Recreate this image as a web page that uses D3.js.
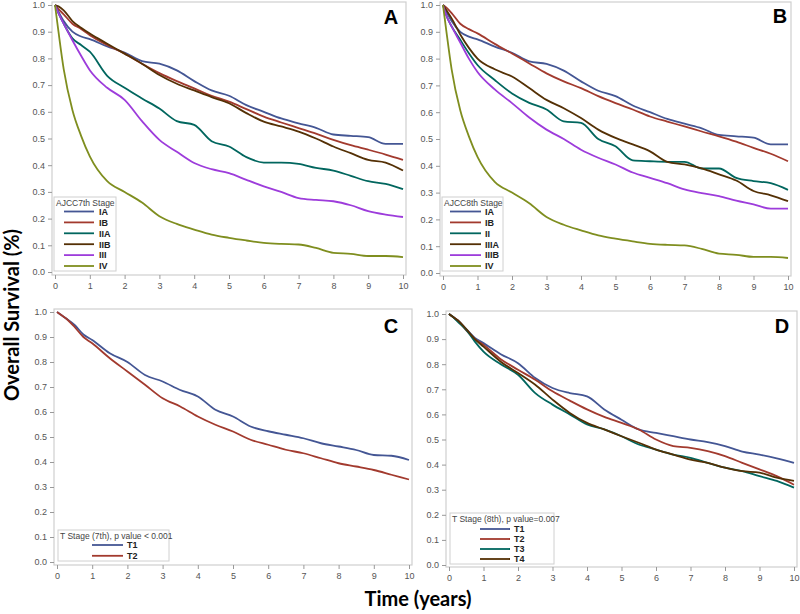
<!DOCTYPE html>
<html><head><meta charset="utf-8">
<script src="https://cdn.jsdelivr.net/npm/d3@7"></script>
<style>
body{margin:0;background:#fff;}
svg{display:block;}
</style></head><body>
<svg id="chart" width="800" height="614"></svg>
<script>
// ---------- data ----------
const times = [0,0.1,0.25,0.5,0.75,1,1.5,2,2.5,3,3.5,4,4.5,5,5.5,6,6.5,7,7.5,8,8.5,9,9.5,10];
const xTicks = [0,1,2,3,4,5,6,7,8,9,10];
const yTicks = [0,0.1,0.2,0.3,0.4,0.5,0.6,0.7,0.8,0.9,1.0];

const stagesA = ["IA","IB","IIA","IIB","III","IV"];
const A_IA  = [1.0,0.975,0.94,0.9,0.882,0.872,0.845,0.822,0.79,0.78,0.755,0.715,0.68,0.66,0.625,0.60,0.575,0.557,0.54,0.515,0.51,0.505,0.48,0.48];
const A_IB  = [1.0,0.985,0.965,0.93,0.91,0.887,0.85,0.818,0.78,0.745,0.715,0.688,0.66,0.638,0.61,0.582,0.56,0.539,0.518,0.495,0.475,0.458,0.44,0.42];
const A_IIA = [1.0,0.97,0.93,0.875,0.85,0.825,0.735,0.69,0.65,0.612,0.565,0.551,0.49,0.47,0.43,0.41,0.41,0.405,0.39,0.38,0.36,0.34,0.33,0.31];
const A_IIB = [1.0,0.995,0.98,0.94,0.915,0.893,0.855,0.818,0.78,0.738,0.705,0.68,0.655,0.632,0.595,0.563,0.545,0.526,0.50,0.47,0.445,0.42,0.41,0.38];
const A_III = [1.0,0.97,0.93,0.868,0.81,0.756,0.69,0.645,0.565,0.495,0.45,0.408,0.385,0.37,0.345,0.321,0.30,0.277,0.27,0.265,0.25,0.228,0.215,0.206];
const A_IV  = [1.0,0.9,0.76,0.607,0.51,0.433,0.34,0.30,0.26,0.209,0.18,0.159,0.14,0.128,0.118,0.109,0.105,0.103,0.09,0.072,0.068,0.06,0.06,0.056];

const stagesB = ["IA","IB","II","IIIA","IIIB","IV"];
const B_IA   = [1.0,0.975,0.94,0.9,0.882,0.872,0.845,0.822,0.79,0.78,0.755,0.715,0.68,0.66,0.625,0.60,0.575,0.557,0.54,0.515,0.51,0.505,0.48,0.48];
const B_IB   = [1.0,0.99,0.97,0.93,0.91,0.894,0.855,0.819,0.782,0.745,0.715,0.69,0.66,0.634,0.61,0.584,0.565,0.547,0.528,0.51,0.49,0.467,0.445,0.417];
const B_II   = [1.0,0.96,0.92,0.87,0.82,0.776,0.72,0.67,0.635,0.61,0.566,0.56,0.50,0.473,0.42,0.417,0.415,0.415,0.39,0.39,0.355,0.343,0.335,0.31];
const B_IIIA = [1.0,0.98,0.95,0.89,0.84,0.80,0.76,0.733,0.69,0.646,0.615,0.578,0.535,0.504,0.48,0.454,0.415,0.405,0.39,0.368,0.345,0.306,0.29,0.268];
const B_IIIB = [1.0,0.96,0.92,0.86,0.80,0.75,0.685,0.634,0.58,0.535,0.50,0.46,0.43,0.405,0.375,0.355,0.335,0.312,0.298,0.287,0.27,0.256,0.24,0.24];
const B_IV   = [1.0,0.9,0.76,0.607,0.51,0.433,0.34,0.30,0.26,0.209,0.18,0.159,0.14,0.128,0.118,0.109,0.105,0.103,0.09,0.072,0.068,0.06,0.06,0.056];

const stagesC = ["T1","T2"];
const C_T1 = [1.0,0.99,0.975,0.948,0.91,0.888,0.835,0.80,0.748,0.722,0.688,0.662,0.609,0.582,0.542,0.523,0.509,0.495,0.475,0.462,0.448,0.428,0.425,0.408];
const C_T2 = [1.0,0.99,0.975,0.94,0.90,0.875,0.815,0.762,0.709,0.655,0.622,0.582,0.549,0.522,0.489,0.469,0.449,0.435,0.415,0.395,0.382,0.368,0.349,0.33];

const stagesD = ["T1","T2","T3","T4"];
const D_T1 = [1.0,0.99,0.975,0.94,0.905,0.884,0.84,0.804,0.745,0.705,0.685,0.672,0.62,0.579,0.54,0.526,0.513,0.50,0.49,0.474,0.452,0.44,0.425,0.407];
const D_T2 = [1.0,0.99,0.975,0.935,0.90,0.877,0.82,0.778,0.738,0.692,0.655,0.62,0.59,0.566,0.54,0.50,0.474,0.467,0.454,0.434,0.407,0.381,0.354,0.32];
const D_T3 = [1.0,0.99,0.97,0.937,0.89,0.85,0.80,0.758,0.685,0.639,0.60,0.56,0.54,0.513,0.48,0.46,0.44,0.427,0.407,0.388,0.374,0.354,0.335,0.308];
const D_T4 = [1.0,0.99,0.975,0.94,0.90,0.87,0.81,0.765,0.718,0.659,0.606,0.566,0.54,0.513,0.487,0.46,0.44,0.42,0.407,0.388,0.374,0.368,0.348,0.335];

const palette6 = ["#445694","#A23A2E","#01665E","#543005","#9D3CDB","#7F8E1F"];
const paletteD = ["#445694","#A23A2E","#01665E","#543005"];

// ---------- drawing ----------
const svg = d3.select("#chart");
const FONT = "Liberation Sans, Arial, sans-serif";

const panels = [
  {letter:"A", names:stagesA, series:[A_IA,A_IB,A_IIA,A_IIB,A_III,A_IV], colors:palette6,
   frame:[52,406,2,275], xr:[55,403], yr:[272,5], letterPos:[391,24],
   legend:{title:"AJCC7th Stage", box:[54,197,116,271], x1:64, x2:94, lx:99, y0:211.5, dy:10.9}},
  {letter:"B", names:stagesB, series:[B_IA,B_IB,B_II,B_IIIA,B_IIIB,B_IV], colors:palette6,
   frame:[440,791,2,276], xr:[443,788], yr:[273,5], letterPos:[780,23],
   legend:{title:"AJCC8th Stage", box:[442,197,503,271], x1:450, x2:481, lx:485, y0:211.5, dy:10.9}},
  {letter:"C", names:stagesC, series:[C_T1,C_T2], colors:paletteD,
   frame:[54,412,309,565], xr:[57,409], yr:[562,312], letterPos:[391,333],
   legend:{title:"T Stage (7th), p value < 0.001", box:[58,530,169,561], x1:92, x2:123, lx:127, y0:545, dy:10.8}},
  {letter:"D", names:stagesD, series:[D_T1,D_T2,D_T3,D_T4], colors:paletteD,
   frame:[446,797,311,567], xr:[449,794], yr:[565,314], letterPos:[782,333],
   legend:{title:"T Stage (8th), p value=0.007", box:[450,513,554,564], x1:480, x2:510, lx:514, y0:529, dy:10}}
];

panels.forEach(p => {
  const g = svg.append("g");
  const x = d3.scaleLinear().domain([0,10]).range(p.xr);
  const y = d3.scaleLinear().domain([0,1]).range(p.yr);
  const [fx0,fx1,fy0,fy1] = p.frame;

  g.append("rect").attr("x",fx0).attr("y",fy0).attr("width",fx1-fx0).attr("height",fy1-fy0)
    .attr("fill","none").attr("stroke","#cfcfcf").attr("stroke-width",1.2);

  const xa = g.append("g").attr("transform",`translate(0,${fy1})`)
    .call(d3.axisBottom(x).tickValues(xTicks).tickFormat(d3.format("d")).tickSize(4).tickPadding(4));
  const ya = g.append("g").attr("transform",`translate(${fx0},0)`)
    .call(d3.axisLeft(y).tickValues(yTicks).tickFormat(d3.format(".1f")).tickSize(4).tickPadding(3));
  [xa,ya].forEach(a => {
    a.select(".domain").remove();
    a.selectAll("line").attr("stroke","#999");
    a.selectAll("text").attr("fill","#555").style("font-family",FONT).style("font-size","9px");
  });

  const line = d3.line().x((d,i)=>x(times[i])).y(d=>y(d)).curve(d3.curveMonotoneX);
  p.series.forEach((s,i) => {
    g.append("path").datum(s).attr("d",line).attr("fill","none")
      .attr("stroke",p.colors[i]).attr("stroke-width",1.8).attr("stroke-linejoin","round");
  });

  const L = p.legend;
  g.append("rect").attr("x",L.box[0]).attr("y",L.box[1]).attr("width",L.box[2]-L.box[0]).attr("height",L.box[3]-L.box[1])
    .attr("fill","#fff").attr("stroke","#d0d0d0").attr("stroke-width",1);
  g.append("text").attr("x",L.box[0]+2).attr("y",L.box[1]+8.5).text(L.title)
    .attr("fill","#444").style("font-family",FONT).style("font-size","8.5px");
  p.names.forEach((n,i) => {
    const yy = L.y0 + i*L.dy;
    g.append("line").attr("x1",L.x1).attr("x2",L.x2).attr("y1",yy).attr("y2",yy)
      .attr("stroke",p.colors[i]).attr("stroke-width",1.8);
    g.append("text").attr("x",L.lx).attr("y",yy+3.3).text(n)
      .attr("fill","#222").style("font-family",FONT)
      .style("font-size","9px").style("font-weight","bold");
  });

  g.append("text").attr("x",p.letterPos[0]).attr("y",p.letterPos[1]).attr("text-anchor","middle")
    .text(p.letter).attr("fill","#000").style("font-family",FONT)
    .style("font-size","20px").style("font-weight","bold");
});

svg.append("text").attr("transform","translate(19,315) rotate(-90)").attr("text-anchor","middle")
  .text("Overall Survival (%)").attr("fill","#000")
  .style("font-family","Lato, 'Open Sans', sans-serif").style("font-size","20px").style("font-weight","bold");
svg.append("text").attr("x",418).attr("y",606).attr("text-anchor","middle")
  .text("Time (years)").attr("fill","#000")
  .style("font-family","Lato, 'Open Sans', sans-serif").style("font-size","20px").style("font-weight","bold");
</script>
</body></html>
